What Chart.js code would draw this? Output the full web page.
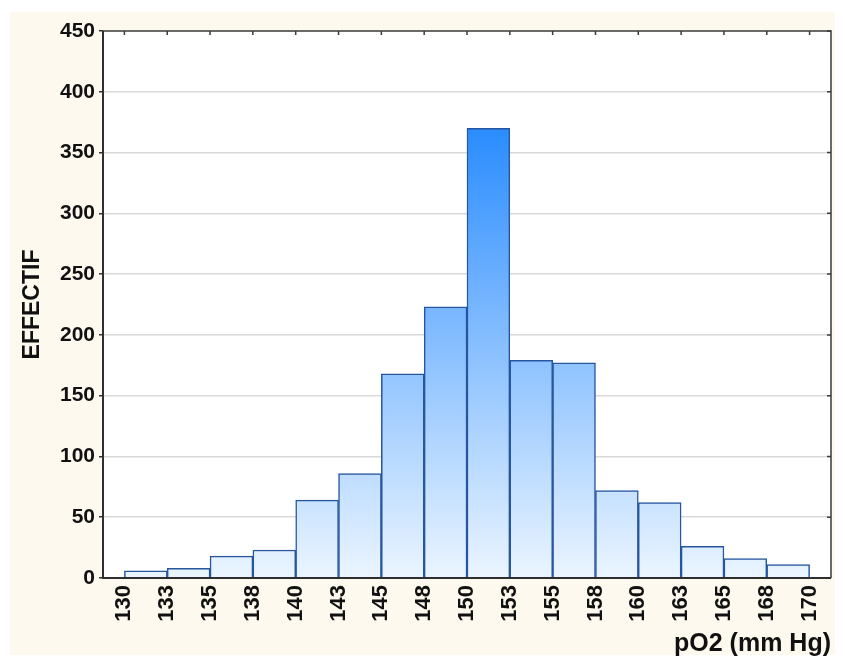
<!DOCTYPE html>
<html>
<head>
<meta charset="utf-8">
<script src="https://cdn.jsdelivr.net/npm/chart.js@4/dist/chart.umd.min.js"></script>
<style>
html,body{margin:0;padding:0;background:#ffffff;}
#wrap{width:845px;height:661px;}
</style>
</head>
<body>
<div id="wrap"><canvas id="c" width="845" height="661"></canvas></div>
<script>
// ---- data ----
const binEdges = [130,132.5,135,137.5,140,142.5,145,147.5,150,152.5,155,157.5,160,162.5,165,167.5,170];
const xTickLabels = ['130','133','135','138','140','143','145','148','150','153','155','158','160','163','165','168','170'];
const counts = [6,8,18,23,64,86,168,223,370,179,177,72,62,26,16,11];
const yTicks = [0,50,100,150,200,250,300,350,400,450];
const xTitle = 'pO2 (mm Hg)';
const yTitle = 'EFFECTIF';

const barData = counts.map((c,i)=>({x:(binEdges[i]+binEdges[i+1])/2, y:c}));
const halfBin = (binEdges[1]-binEdges[0])/2;

const FONT = "'Liberation Sans', Arial, sans-serif";

const bgPlugin = {
  id:'bg',
  beforeDraw(chart){
    const ctx = chart.ctx, a = chart.chartArea;
    ctx.save();
    ctx.fillStyle = '#fdf9ee';
    ctx.fillRect(10,12,825,643);
    ctx.fillStyle = '#ffffff';
    ctx.fillRect(a.left,a.top,a.right-a.left,a.bottom-a.top);
    ctx.restore();
  },
  afterDatasetsDraw(chart){
    const ctx = chart.ctx, a = chart.chartArea;
    const xs = chart.scales.x, ys = chart.scales.y;
    ctx.save();
    ctx.strokeStyle = '#3a3a3a';
    ctx.lineWidth = 1.5;
    ctx.beginPath();
    ctx.moveTo(a.left,a.top); ctx.lineTo(a.right,a.top); ctx.lineTo(a.right,a.bottom);
    ctx.stroke();
    ctx.beginPath();
    xs.ticks.forEach(t=>{const p = xs.getPixelForValue(t.value); ctx.moveTo(p,a.top); ctx.lineTo(p,a.top+4);});
    ys.ticks.forEach(t=>{const p = ys.getPixelForValue(t.value); ctx.moveTo(a.right,p); ctx.lineTo(a.right-4,p);});
    ctx.stroke();
    ctx.lineWidth = 2;
    ctx.strokeStyle = '#2f2f2f';
    ctx.beginPath();
    ctx.moveTo(a.left,a.top); ctx.lineTo(a.left,a.bottom); ctx.lineTo(a.right,a.bottom);
    ctx.stroke();
    ctx.restore();
  }
};

new Chart(document.getElementById('c'), {
  type:'bar',
  data:{
    datasets:[{
      data: barData,
      backgroundColor(ctx){
        const chart = ctx.chart, a = chart.chartArea;
        if(!a) return '#8cc1ff';
        const ys = chart.scales.y;
        const g = chart.ctx.createLinearGradient(0, a.bottom, 0, ys.getPixelForValue(Math.max(...counts)));
        g.addColorStop(0,'#ebf5ff');
        g.addColorStop(1,'#2a8cff');
        return g;
      },
      borderColor:'#27569f',
      borderWidth:1.5,
      barPercentage:1,
      categoryPercentage:1,
      borderSkipped:'bottom'
    }]
  },
  options:{
    responsive:false,
    animation:false,
    devicePixelRatio:1,
    layout:{padding:{left:10,right:14,top:31,bottom:0}},
    plugins:{legend:{display:false},tooltip:{enabled:false}},
    scales:{
      x:{
        type:'linear',
        offset:false,
        min: binEdges[0]-halfBin,
        max: binEdges[binEdges.length-1]+halfBin,
        afterBuildTicks(scale){ scale.ticks = binEdges.map(v=>({value:v})); },
        afterFit(scale){ scale.height = 83; },
        grid:{display:false, drawTicks:false, offset:false},
        border:{display:false},
        ticks:{
          autoSkip:false,
          minRotation:90, maxRotation:90,
          padding:7,
          color:'#111',
          font:{family:FONT, size:22, weight:'bold'},
          callback(v,i){ return xTickLabels[i]; }
        },
        title:{display:true, text:xTitle, align:'end', color:'#111',
          font:{family:FONT, size:25, weight:'bold'}, padding:{top:0,bottom:2}}
      },
      y:{
        min:0, max:450,
        afterBuildTicks(scale){ scale.ticks = yTicks.map(v=>({value:v})); },
        afterFit(scale){ scale.width = 93; },
        grid:{color:(c)=> (c.tick && (c.tick.value===0||c.tick.value===450)) ? 'rgba(0,0,0,0)' : '#d9d9d9',
              lineWidth:1.5, tickColor:'#333', tickLength:4, drawTicks:true},
        border:{display:false},
        ticks:{padding:4, color:'#111', font:{family:FONT, size:21, weight:'bold'}},
        title:{display:true, text:yTitle, color:'#111',
          font:{family:FONT, size:23, weight:'bold'}, padding:{top:9,bottom:4}}
      }
    }
  },
  plugins:[bgPlugin]
});
</script>
</body>
</html>
